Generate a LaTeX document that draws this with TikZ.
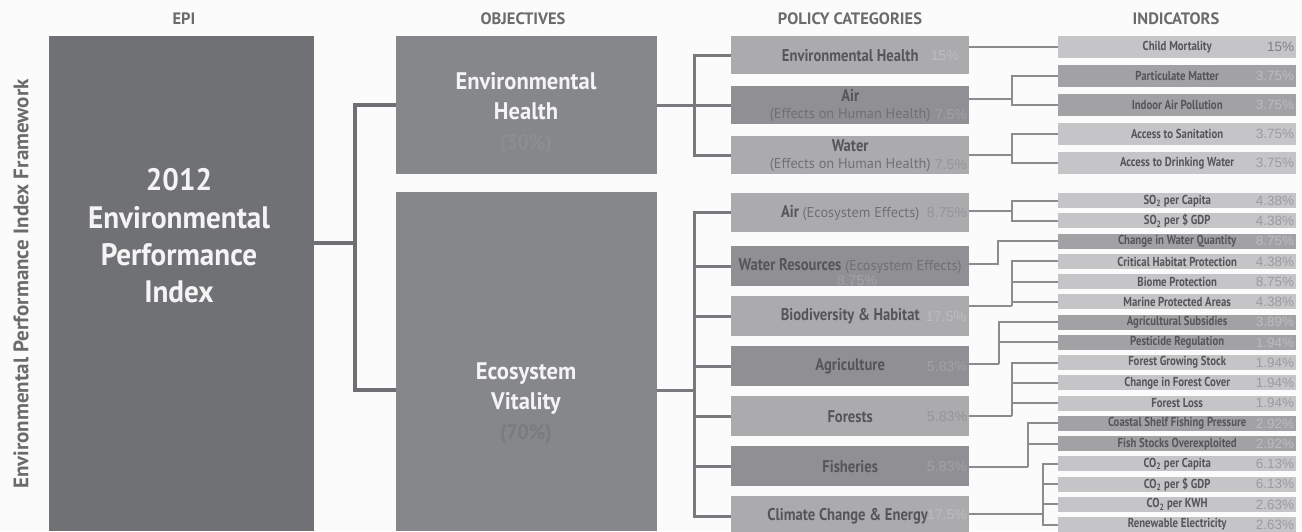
\documentclass[tikz,border=0pt]{standalone}
\usepackage{fontspec}
\setmainfont{PT Sans}
\newfontfamily\condf[FakeStretch=0.94]{PT Sans}
\newfontfamily\pcondf[FakeStretch=0.86]{PT Sans}
\newfontfamily\icondf[FakeStretch=0.83]{PT Sans}
\newfontfamily\pctf{Liberation Sans}
\usetikzlibrary{backgrounds}
\definecolor{cBg}{HTML}{FBFBFB}
\definecolor{cEpi}{HTML}{707175}
\definecolor{cObj}{HTML}{86878B}
\definecolor{cPL}{HTML}{ABABAE}
\definecolor{cPD}{HTML}{909094}
\definecolor{cIL}{HTML}{C5C5C7}
\definecolor{cID}{HTML}{A2A2A5}
\definecolor{cLineA}{HTML}{6E6F73}
\definecolor{cLineB}{HTML}{7A7A7E}
\definecolor{cLineC}{HTML}{8C8C8F}
\definecolor{cHdr}{HTML}{6B6B6D}
\definecolor{cTxt}{HTML}{565658}
\definecolor{cReg}{HTML}{707073}
\definecolor{cWht}{HTML}{F4F4F4}
\definecolor{cObjPctA}{HTML}{8D8E92}
\definecolor{cObjPctB}{HTML}{7A7B7F}
\definecolor{cPctL}{HTML}{96969A}
\definecolor{cPctLL}{HTML}{BDBDC0}
\definecolor{cPctD}{HTML}{A3A3A6}
\definecolor{cIPctL}{HTML}{9C9C9F}
\definecolor{cIPctD}{HTML}{BCBCBF}
\newcommand\PBold{\pcondf\bfseries\fontsize{17}{19}\selectfont\color{cTxt}}
\newcommand\PReg{\normalfont\fontsize{14.3}{18}\selectfont\color{cReg}}
\newcommand\IName{\icondf\bfseries\fontsize{13}{14}\selectfont\color{cTxt}}
\begin{document}
\begin{tikzpicture}[x=1pt,y=-1pt,
  boxbase/.style={inner sep=0pt,anchor=north west,draw=none},
  epibox/.style={boxbase,fill=cEpi},
  objbox/.style={boxbase,fill=cObj,minimum width=261pt},
  pboxL/.style={boxbase,fill=cPL,minimum width=238pt,minimum height=38pt,align=center,font=\PBold},
  pboxD/.style={pboxL,fill=cPD},
  iboxL/.style={boxbase,fill=cIL,minimum width=238pt,font=\IName},
  iboxD/.style={iboxL,fill=cID},
  irowA/.style={minimum height=22pt},
  irowB/.style={minimum height=15pt},
  hdr/.style={font=\bfseries\fontsize{16.5}{18}\selectfont,text=cHdr,inner sep=0pt},
  pctL/.style={anchor=east,inner sep=0pt,font=\pctf\fontsize{14.2}{16}\selectfont,text=cPctL},
  pctLL/.style={pctL,text=cPctLL},
  pctD/.style={pctL,text=cPctD},
  ipctL/.style={anchor=east,inner sep=0pt,font=\pctf\fontsize{13.5}{15}\selectfont,text=cIPctL},
  ipctD/.style={ipctL,text=cIPctD},
  conA/.style={draw=cLineA,line width=4pt,line join=miter},
  conB/.style={draw=cLineB,line width=3pt,line join=miter},
  conC/.style={draw=cLineC,line width=2pt,line join=miter}]
\useasboundingbox (0,0) rectangle (1302,531);
\begin{scope}[on background layer]
\fill[cBg] (0,0) rectangle (1302,531);
\end{scope}

% headers
\node[hdr] (hEPI) at (184,19) {EPI};
\node[hdr] (hOBJ) at (523,19) {OBJECTIVES};
\node[hdr] (hPOL) at (850,19) {POLICY CATEGORIES};
\node[hdr] (hIND) at (1176,19) {INDICATORS};
\node[rotate=90,inner sep=0pt,text=cHdr,font=\bfseries\fontsize{21}{24}\selectfont] (side) at (21,284) {Environmental Performance Index Framework};

% EPI
\node[epibox,minimum width=265pt,minimum height=495pt] (epi) at (49,36) {};
\node[align=center,text=cWht,font=\condf\bfseries\fontsize{31}{37.4}\selectfont,inner sep=0pt] (epiT) at (179,236) {2012\\Environmental\\Performance\\Index};

% objectives
\node[objbox,minimum height=138pt] (objEH) at (396,36) {};
\node[align=center,text=cWht,font=\condf\bfseries\fontsize{24}{30}\selectfont,inner sep=0pt] (objEHT) at (526,113) {Environmental\\Health\\{\color{cObjPctA}\fontsize{21}{30}\selectfont(30\%)}};
\node[objbox,minimum height=339pt] (objEV) at (396,192) {};
\node[align=center,text=cWht,font=\condf\bfseries\fontsize{24}{30}\selectfont,inner sep=0pt] (objEVT) at (526,403) {Ecosystem\\Vitality\\{\color{cObjPctB}\fontsize{21}{30}\selectfont(70\%)}};

% policy categories
\node[pboxL] (p1) at (731,36) {Environmental Health};
\node[pctLL] (p1p) at ([xshift=-10pt]p1.east) {15\%};
\node[pboxD] (p2) at (731,86) {Air\\[-2pt]{\PReg(Effects on Human Health)}};
\node[pctD] (p2p) at ([xshift=-2pt,yshift=-9pt]p2.east) {7.5\%};
\node[pboxL] (p3) at (731,136) {Water\\[-2pt]{\PReg(Effects on Human Health)}};
\node[pctL] (p3p) at ([xshift=-2pt,yshift=-9pt]p3.east) {7.5\%};
\node[pboxL,minimum height=39pt] (p4) at (731,193) {Air {\PReg(Ecosystem Effects)}};
\node[pctL] (p4p) at ([xshift=-2pt]p4.east) {8.75\%};
\node[pboxD,minimum height=40pt] (p5) at (731,246) {Water Resources {\PReg(Ecosystem Effects)}};
\node[pctD,anchor=center] (p5p) at (857,281) {8.75\%};
\node[pboxL,minimum height=40pt] (p6) at (731,296) {Biodiversity \& Habitat};
\node[pctLL] (p6p) at ([xshift=-3pt]p6.east) {17.5\%};
\node[pboxD,minimum height=40pt] (p7) at (731,346) {Agriculture};
\node[pctD] (p7p) at ([xshift=-2pt]p7.east) {5.83\%};
\node[pboxL,minimum height=40pt] (p8) at (731,396) {Forests};
\node[pctL] (p8p) at ([xshift=-2pt]p8.east) {5.83\%};
\node[pboxD,minimum height=40pt] (p9) at (731,446) {Fisheries};
\node[pctD] (p9p) at ([xshift=-2pt]p9.east) {5.83\%};
\node[pboxL,minimum height=40pt] (p10) at (731,496) {\hspace*{-5pt}Climate Change \& Energy};
\node[pctLL] (p10p) at ([xshift=-2pt,yshift=2pt]p10.east) {17.5\%};

% indicators
\node[iboxL,irowA] (i1) at (1058,36) {Child Mortality};
\node[ipctL,text=cTxt!75] (i1p) at ([xshift=-2pt]i1.east) {15\%};
\node[iboxD,irowA] (i2) at (1058,65) {Particulate Matter};
\node[ipctD] (i2p) at ([xshift=-2pt]i2.east) {3.75\%};
\node[iboxD,irowA] (i3) at (1058,94) {Indoor Air Pollution};
\node[ipctD] (i3p) at ([xshift=-2pt]i3.east) {3.75\%};
\node[iboxL,irowA] (i4) at (1058,123) {Access to Sanitation};
\node[ipctL] (i4p) at ([xshift=-2pt]i4.east) {3.75\%};
\node[iboxL,irowA] (i5) at (1058,152) {Access to Drinking Water};
\node[ipctL] (i5p) at ([xshift=-2pt]i5.east) {3.75\%};
\node[iboxL,irowB] (i6) at (1058,193) {SO\textsubscript{2} per Capita};
\node[ipctL] (i6p) at ([xshift=-2pt]i6.east) {4.38\%};
\node[iboxL,irowB] (i7) at (1058,213.25) {SO\textsubscript{2} per \$ GDP};
\node[ipctL] (i7p) at ([xshift=-2pt]i7.east) {4.38\%};
\node[iboxD,irowB] (i8) at (1058,233.5) {Change in Water Quantity};
\node[ipctD] (i8p) at ([xshift=-2pt]i8.east) {8.75\%};
\node[iboxL,irowB] (i9) at (1058,253.75) {Critical Habitat Protection};
\node[ipctL] (i9p) at ([xshift=-2pt]i9.east) {4.38\%};
\node[iboxL,irowB] (i10) at (1058,274) {Biome Protection};
\node[ipctL] (i10p) at ([xshift=-2pt]i10.east) {8.75\%};
\node[iboxL,irowB] (i11) at (1058,294.25) {Marine Protected Areas};
\node[ipctL] (i11p) at ([xshift=-2pt]i11.east) {4.38\%};
\node[iboxD,irowB] (i12) at (1058,314.5) {Agricultural Subsidies};
\node[ipctD] (i12p) at ([xshift=-2pt]i12.east) {3.89\%};
\node[iboxD,irowB] (i13) at (1058,334.75) {Pesticide Regulation};
\node[ipctD] (i13p) at ([xshift=-2pt]i13.east) {1.94\%};
\node[iboxL,irowB] (i14) at (1058,355) {Forest Growing Stock};
\node[ipctL] (i14p) at ([xshift=-2pt]i14.east) {1.94\%};
\node[iboxL,irowB] (i15) at (1058,375.25) {Change in Forest Cover};
\node[ipctL] (i15p) at ([xshift=-2pt]i15.east) {1.94\%};
\node[iboxL,irowB] (i16) at (1058,395.5) {Forest Loss};
\node[ipctL] (i16p) at ([xshift=-2pt]i16.east) {1.94\%};
\node[iboxD,irowB] (i17) at (1058,415.75) {Coastal Shelf Fishing Pressure};
\node[ipctD] (i17p) at ([xshift=-2pt]i17.east) {2.92\%};
\node[iboxD,irowB] (i18) at (1058,436) {Fish Stocks Overexploited};
\node[ipctD] (i18p) at ([xshift=-2pt]i18.east) {2.92\%};
\node[iboxL,irowB] (i19) at (1058,456.25) {CO\textsubscript{2} per Capita};
\node[ipctL] (i19p) at ([xshift=-2pt]i19.east) {6.13\%};
\node[iboxL,irowB] (i20) at (1058,476.5) {CO\textsubscript{2} per \$ GDP};
\node[ipctL] (i20p) at ([xshift=-2pt]i20.east) {6.13\%};
\node[iboxL,irowB] (i21) at (1058,496.75) {CO\textsubscript{2} per KWH};
\node[ipctL] (i21p) at ([xshift=-2pt]i21.east) {2.63\%};
\node[iboxL,irowB] (i22) at (1058,517) {Renewable Electricity};
\node[ipctL] (i22p) at ([xshift=-2pt]i22.east) {2.63\%};

% connectors
\begin{scope}[on background layer]
\coordinate (jA) at (355,243);
\draw[conA] (epi.east |- jA) -- (jA);
\draw[conA] (objEH.west) -| (jA) |- (objEV.west |- 0,390);

\coordinate (jB) at (694,105);
\draw[conB] (objEH.east |- jB) -- (jB);
\draw[conB] (p1.west) -| (jB) |- (p3.west);
\draw[conB] (jB |- p2.west) -- (p2.west);

\coordinate (jC) at (694,390);
\draw[conB] (objEV.east |- jC) -- (jC);
\draw[conB] (p4.west) -| (jC) |- (p10.west);
\foreach \n in {5,...,9} \draw[conB] (jC |- p\n.west) -- (p\n.west);

\draw[conC] (p1.east |- i1.west) -- (i1.west);
\coordinate (k2) at (1012,99);
\draw[conC] (p2.east |- k2) -- (k2);
\draw[conC] (i2.west) -| (k2) |- (i3.west);
\coordinate (k3) at (1012,155);
\draw[conC] (p3.east |- k3) -- (k3);
\draw[conC] (i4.west) -| (k3) |- (i5.west);
\coordinate (k4) at (1012,211);
\draw[conC] (p4.east |- k4) -- (k4);
\draw[conC] (i6.west) -| (k4) |- (i7.west);
\coordinate (k5) at (998,264);
\draw[conC] (p5.east |- k5) -- (k5) |- (i8.west);
\coordinate (k6) at (1012,306);
\draw[conC] (p6.east |- k6) -- (k6);
\draw[conC] (i9.west) -| (k6);
\draw[conC] (k6 |- i10.west) -- (i10.west);
\draw[conC] (k6 |- i11.west) -- (i11.west);
\coordinate (k7) at (999,364);
\draw[conC] (p7.east |- k7) -- (k7);
\draw[conC] (i12.west) -| (k7);
\draw[conC] (k7 |- i13.west) -- (i13.west);
\coordinate (k8) at (1012,416);
\draw[conC] (p8.east |- k8) -- (k8);
\draw[conC] (i14.west) -| (k8);
\draw[conC] (k8 |- i15.west) -- (i15.west);
\draw[conC] (k8 |- i16.west) -- (i16.west);
\coordinate (k9) at (1028,467);
\draw[conC] (p9.east |- k9) -- (k9);
\draw[conC] (i17.west) -| (k9);
\draw[conC] (k9 |- i18.west) -- (i18.west);
\coordinate (k10) at (1043,514);
\draw[conC] (p10.east |- k10) -- (k10);
\draw[conC] (i19.west) -| (k10) |- (i22.west);
\draw[conC] (k10 |- i20.west) -- (i20.west);
\draw[conC] (k10 |- i21.west) -- (i21.west);
\end{scope}
\end{tikzpicture}
\end{document}
